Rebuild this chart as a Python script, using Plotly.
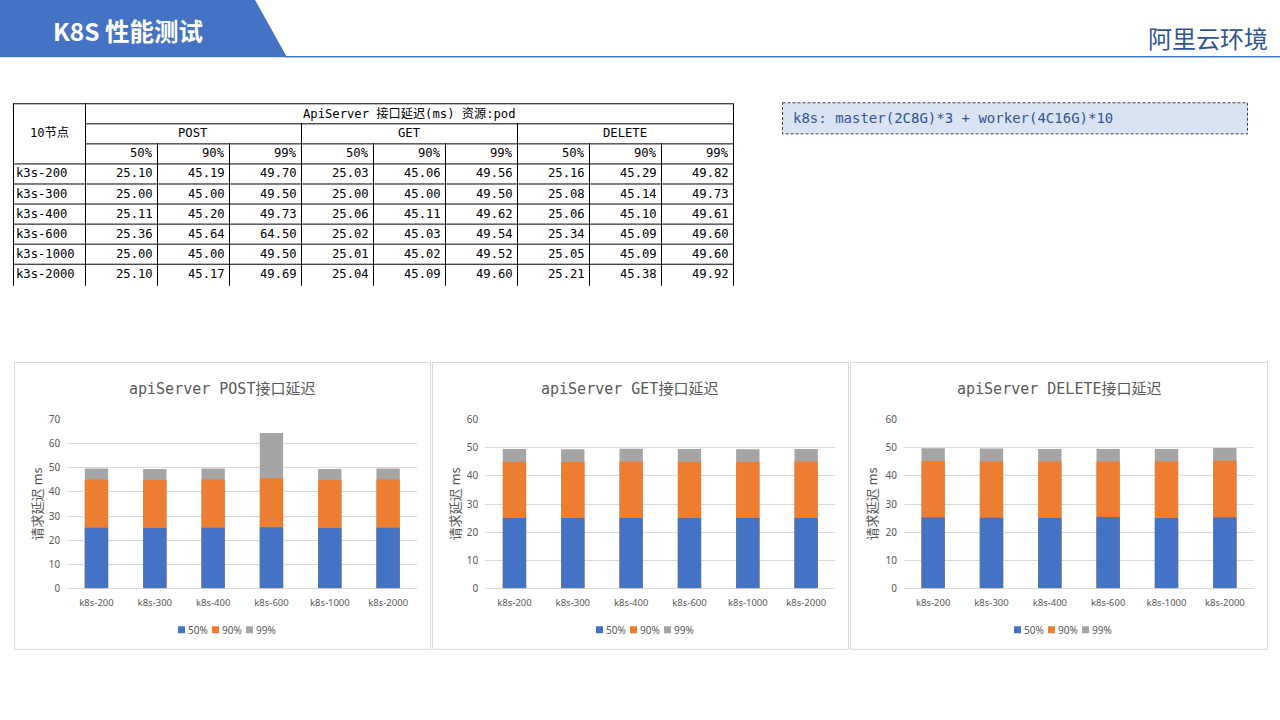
import plotly.graph_objects as go

# ---------------- data ----------------
categories = ["k8s-200", "k8s-300", "k8s-400", "k8s-600", "k8s-1000", "k8s-2000"]
table_rows = ["k3s-200", "k3s-300", "k3s-400", "k3s-600", "k3s-1000", "k3s-2000"]
percentiles = ["50%", "90%", "99%"]
methods = ["POST", "GET", "DELETE"]

post_p50 = [25.10, 25.00, 25.11, 25.36, 25.00, 25.10]
post_p90 = [45.19, 45.00, 45.20, 45.64, 45.00, 45.17]
post_p99 = [49.70, 49.50, 49.73, 64.50, 49.50, 49.69]

get_p50 = [25.03, 25.00, 25.06, 25.02, 25.01, 25.04]
get_p90 = [45.06, 45.00, 45.11, 45.03, 45.02, 45.09]
get_p99 = [49.56, 49.50, 49.62, 49.54, 49.52, 49.60]

del_p50 = [25.16, 25.08, 25.06, 25.34, 25.05, 25.21]
del_p90 = [45.29, 45.14, 45.10, 45.09, 45.09, 45.38]
del_p99 = [49.82, 49.73, 49.61, 49.60, 49.60, 49.92]

chart_titles = ["apiServer POST接口延迟", "apiServer GET接口延迟", "apiServer DELETE接口延迟"]
y_max = [70, 60, 60]
y_title = "请求延迟 ms"
page_title = "K8S 性能测试"
env_title = "阿里云环境"
table_title = "ApiServer 接口延迟(ms) 资源:pod"
table_corner = "10节点"
config_text = "k8s: master(2C8G)*3 + worker(4C16G)*10"

series = [[post_p50, post_p90, post_p99],
          [get_p50, get_p90, get_p99],
          [del_p50, del_p90, del_p99]]

# ---------------- style ----------------
W, H = 1280, 720
# the paper area is rendered 8px down with a 704px tall drawing area
OFF_Y, DRAW_H = 8, 704
colors = ["#4472C4", "#ED7D31", "#A5A5A5"]
grey_txt = "#595959"
mono = "DejaVu Sans Mono, Noto Sans CJK SC, monospace"
cjk = "Noto Sans CJK SC, sans-serif"


def X(px):
    return px / W


def Y(py):
    return 1 - (py - OFF_Y) / DRAW_H


shapes = []
annotations = []

# header
shapes.append(dict(type="path", xref="paper", yref="paper",
                   path=f"M0,{Y(-1)} L{X(254.5)},{Y(-1)} L{X(287)},{Y(57)} L0,{Y(57)} Z",
                   fillcolor="#4472C4", line=dict(width=0)))
shapes.append(dict(type="line", xref="paper", yref="paper",
                   x0=X(286), x1=1, y0=Y(56.5), y1=Y(56.5),
                   line=dict(color="#4472C4", width=1.5)))
annotations.append(dict(text=f"<b>{page_title}</b>", x=X(128), y=Y(30), xref="paper", yref="paper",
                        showarrow=False, xanchor="center", yanchor="middle",
                        font=dict(family=cjk, size=24.5, color="white")))
annotations.append(dict(text=env_title, x=X(1270), y=Y(37), xref="paper", yref="paper",
                        showarrow=False, xanchor="right", yanchor="middle",
                        font=dict(family=cjk, size=24, color="#2F5597")))

# config box
shapes.append(dict(type="rect", xref="paper", yref="paper",
                   x0=X(782.5), x1=X(1247.5), y0=Y(102.5), y1=Y(133.5),
                   fillcolor="#DAE3F3", line=dict(color="#404040", width=1, dash="3px,2px")))
annotations.append(dict(text=config_text, x=X(791), y=Y(118), xref="paper", yref="paper",
                        showarrow=False, xanchor="left", yanchor="middle",
                        font=dict(family=mono, size=14, color="#2F5597")))

# ---------------- table ----------------
tline = dict(color="#000000", width=1)
col_edges = [13, 85, 157, 229, 301, 373, 445, 517, 589, 661, 733]
row_top = 103
row_h = 20
n_rows = 3 + len(table_rows)
bottom = row_top + n_rows * row_h


def hline(y, x0, x1):
    shapes.append(dict(type="line", xref="paper", yref="paper",
                       x0=X(x0), x1=X(x1), y0=Y(y + 0.5), y1=Y(y + 0.5), line=tline))


def vline(x, y0, y1):
    shapes.append(dict(type="line", xref="paper", yref="paper",
                       x0=X(x + 0.5), x1=X(x + 0.5), y0=Y(y0), y1=Y(y1), line=tline))


hline(row_top, 13, 733)
hline(row_top + row_h, 85, 733)
hline(row_top + 2 * row_h, 85, 733)
for r in range(3, n_rows):
    hline(row_top + r * row_h, 13, 733)
for i, xe in enumerate(col_edges):
    if i in (0, 1, 10):
        vline(xe, row_top, bottom + 2)
    elif i in (4, 7):
        vline(xe, row_top + row_h, bottom + 2)
    else:
        vline(xe, row_top + 2 * row_h, bottom + 2)

tfont = dict(family=mono, size=12.2, color="#000000")


def tcell(text, x, y, anchor):
    annotations.append(dict(text=text, x=X(x), y=Y(y), xref="paper", yref="paper",
                            showarrow=False, xanchor=anchor, yanchor="middle", font=tfont))


tcell(table_title, (85 + 733) / 2, row_top + row_h / 2, "center")
tcell(table_corner, (13 + 85) / 2, row_top + 1.5 * row_h, "center")
for m, name in enumerate(methods):
    x0 = col_edges[1 + 3 * m]
    x1 = col_edges[4 + 3 * m]
    tcell(name, (x0 + x1) / 2, row_top + 1.5 * row_h, "center")
    for p, pname in enumerate(percentiles):
        xr = col_edges[2 + 3 * m + p] - 2
        tcell(pname, xr, row_top + 2.5 * row_h, "right")
        for r, val in enumerate(series[m][p]):
            tcell(f"{val:.2f}", xr, row_top + (3.5 + r) * row_h, "right")
for r, lab in enumerate(table_rows):
    tcell(lab, 14, row_top + (3.5 + r) * row_h, "left")

# ---------------- charts ----------------
panels = [(14, 430), (432, 848), (850, 1267)]
plot_x = [(67.3, 417.3), (485.3, 835.3), (904, 1254)]
title_cx = [222, 629, 1059]
ytitle_x = [36, 454, 871]
y0_px, ytop_px = 586.7, 418.5

fig = go.Figure()
layout_axes = {}
for i in range(3):
    sfx = "" if i == 0 else str(i + 1)
    xa, ya = "x" + sfx, "y" + sfx
    # draw highest percentile first so lower ones overlay on top
    for p in (2, 1, 0):
        fig.add_trace(go.Bar(x=categories, y=series[i][p], name=percentiles[p],
                             marker=dict(color=colors[p], line=dict(width=0)),
                             opacity=1, showlegend=False, xaxis=xa, yaxis=ya,
                             hoverinfo="x+y+name"))
    layout_axes["xaxis" + sfx] = dict(domain=[X(plot_x[i][0]), X(plot_x[i][1])], anchor=ya,
                                       showgrid=False, showline=False, zeroline=False, ticks="",
                                       tickfont=dict(family="Noto Sans, sans-serif", size=9.5, color=grey_txt),
                                       ticklabelstandoff=7, fixedrange=True)
    layout_axes["yaxis" + sfx] = dict(domain=[Y(y0_px), Y(ytop_px)], anchor=xa,
                                       range=[0, y_max[i]], dtick=10, showgrid=True,
                                       gridcolor="#D9D9D9", gridwidth=1, zeroline=True,
                                       zerolinecolor="#D9D9D9", zerolinewidth=1, showline=False,
                                       ticks="", tickfont=dict(family="Noto Sans, sans-serif", size=10, color=grey_txt),
                                       ticklabelstandoff=6, fixedrange=True)
    # panel border
    shapes.append(dict(type="rect", xref="paper", yref="paper", layer="below",
                       x0=X(panels[i][0] + 0.5), x1=X(panels[i][1] + 0.5), y0=Y(361.5), y1=Y(647.5),
                       line=dict(color="#D9D9D9", width=1), fillcolor="white"))
    # title
    annotations.append(dict(text=chart_titles[i], x=X(title_cx[i]), y=Y(388), xref="paper", yref="paper",
                            showarrow=False, xanchor="center", yanchor="middle",
                            font=dict(family=mono, size=15, color=grey_txt)))
    # y title
    annotations.append(dict(text=y_title, x=X(ytitle_x[i]), y=Y(503), xref="paper", yref="paper",
                            showarrow=False, xanchor="center", yanchor="middle", textangle=-90,
                            font=dict(family=cjk, size=13, color=grey_txt)))
    # legend
    left = panels[i][0]
    for p, off in enumerate([164, 198, 232]):
        sx = left + off
        shapes.append(dict(type="rect", xref="paper", yref="paper",
                           x0=X(sx), x1=X(sx + 7), y0=Y(624.5), y1=Y(631.5),
                           fillcolor=colors[p], line=dict(width=0)))
        annotations.append(dict(text=percentiles[p], x=X(sx + 8), y=Y(628), xref="paper", yref="paper",
                                showarrow=False, xanchor="left", yanchor="middle",
                                font=dict(family="Noto Sans, sans-serif", size=10, color=grey_txt)))

fig.update_layout(
    width=W, height=H, margin=dict(l=0, r=0, t=0, b=0),
    paper_bgcolor="white", plot_bgcolor="rgba(0,0,0,0)",
    barmode="overlay", bargap=0.6, showlegend=False,
    shapes=shapes, annotations=annotations,
    font=dict(family=cjk, color=grey_txt),
    **layout_axes,
)

fig.write_html("out.html")
